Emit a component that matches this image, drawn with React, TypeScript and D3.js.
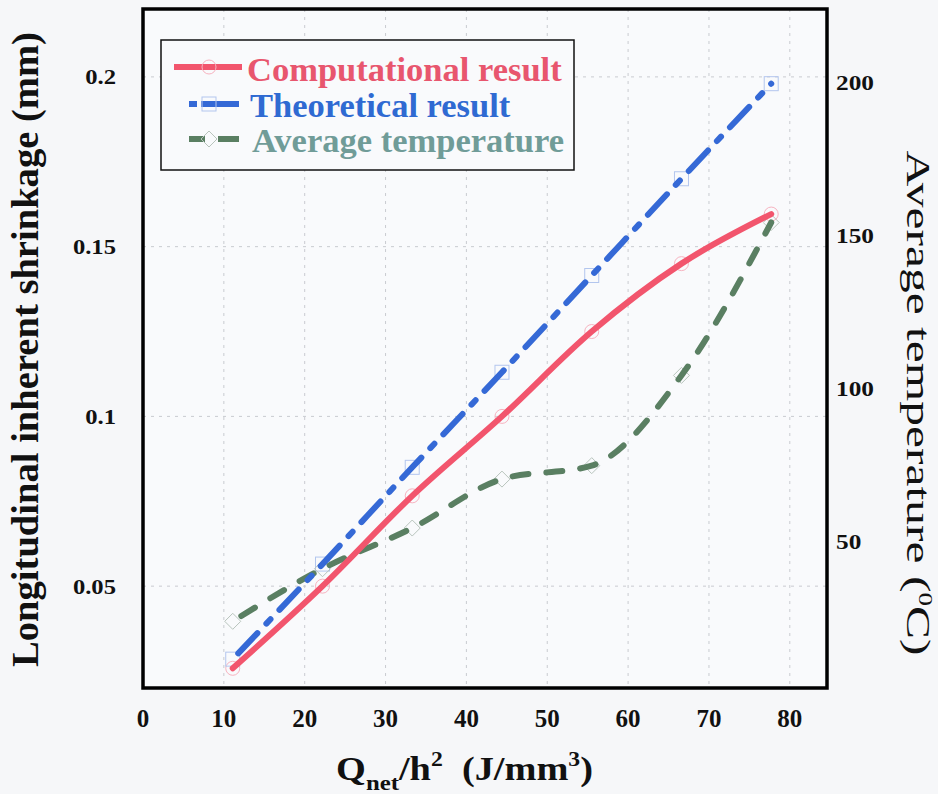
import React, { useLayoutEffect, useRef, useState } from "react";
import * as d3 from "d3";

const xValues = [11.1, 22.2, 33.3, 44.4, 55.5, 66.6, 77.7];
const computational = [0.0258, 0.05, 0.0766, 0.1, 0.125, 0.145, 0.1596];
const theoretical = [0.0285, 0.0565, 0.085, 0.113, 0.1415, 0.17, 0.198];
const avgTemperature = [23.8, 41, 54.3, 70.3, 74.7, 104.2, 154.2];
const xTicks = [0, 10, 20, 30, 40, 50, 60, 70, 80];
const leftTicks = [0.05, 0.1, 0.15, 0.2];
const rightTicks = [50, 100, 150, 200];
const legendLabels = ["Computational result", "Theoretical result", "Average temperature"];

const W = 938;
const H = 794;
const L = 143, R = 827, T = 9, B = 688;
const FONT = "Liberation Serif";

type FitProps = {
  x: number;
  y: number;
  rotate?: number;
  target: number;
  fontSize: number;
  fontWeight?: string;
  fill?: string;
  children: React.ReactNode;
};

function FitText({ x, y, rotate = 0, target, fontSize, fontWeight = "normal", fill = "#111", children }: FitProps) {
  const ref = useRef<SVGTextElement>(null);
  const [s, setS] = useState(1);
  useLayoutEffect(() => {
    if (ref.current) {
      const w = ref.current.getBBox().width;
      if (w > 0) setS(target / w);
    }
  }, [target]);
  return (
    <g transform={`translate(${x},${y}) rotate(${rotate}) scale(${s},1)`}>
      <text ref={ref} x={0} y={0} textAnchor="middle" fontSize={fontSize} fontWeight={fontWeight} fill={fill} fontFamily={FONT}>
        {children}
      </text>
    </g>
  );
}

export default function App() {
  const x = d3.scaleLinear().domain([0, 84.6]).range([L, R]);
  const yL = d3.scaleLinear().domain([0.02, 0.22]).range([B, T]);
  const yR = d3.scaleLinear().domain([2, 224]).range([B, T]);
  const fmt = d3.format("");

  const lineL = d3
    .line<number>()
    .x((_, i) => x(xValues[i]))
    .y((d) => yL(d))
    .curve(d3.curveMonotoneX);
  const lineR = d3
    .line<number>()
    .x((_, i) => x(xValues[i]))
    .y((d) => yR(d))
    .curve(d3.curveMonotoneX);

  const red = "#f2556d";
  const blue = "#3569d6";
  const green = "#5a7f62";

  const diamond = (cx: number, cy: number, s: number) =>
    `M${cx},${cy - s}L${cx + s},${cy}L${cx},${cy + s}L${cx - s},${cy}Z`;

  return (
    <svg
      width={W}
      height={H}
      style={{ position: "absolute", left: 0, top: 0, background: "#f6f7f9" }}
      fontFamily={FONT}
    >
      <rect x={0} y={0} width={W} height={H} fill="#f6f7f9" />
      <rect x={L} y={T} width={R - L} height={B - T} fill="#f9fafc" />
      {/* grid */}
      {xTicks.filter((t) => t > 0).map((t) => (
        <line key={"gx" + t} x1={x(t)} x2={x(t)} y1={T} y2={B} stroke="#c9cbd0" strokeWidth={1} strokeDasharray="3,5" />
      ))}
      {leftTicks.map((t) => (
        <line key={"gy" + t} x1={L} x2={R} y1={yL(t)} y2={yL(t)} stroke="#c9cbd0" strokeWidth={1} strokeDasharray="3,5" />
      ))}

      {/* markers */}
      {computational.map((v, i) => (
        <circle key={"c" + i} cx={x(xValues[i])} cy={yL(v)} r={7} fill="none" stroke="#f7b3c0" strokeWidth={1} />
      ))}
      {theoretical.map((v, i) => (
        <rect key={"s" + i} x={x(xValues[i]) - 7} y={yL(v) - 7} width={14} height={14} fill="none" stroke="#b3c6ee" strokeWidth={1} />
      ))}
      {avgTemperature.map((v, i) => (
        <path key={"d" + i} d={diamond(x(xValues[i]), yR(v), 8)} fill="none" stroke="#b8c4bc" strokeWidth={1} />
      ))}

      {/* lines */}
      <path d={lineR(avgTemperature) || ""} fill="none" stroke={green} strokeWidth={6} strokeDasharray="16,18" strokeLinecap="round" strokeDashoffset={-10} />
      <path d={lineL(theoretical) || ""} fill="none" stroke={blue} strokeWidth={6} strokeDasharray="28,13,6,13" strokeLinecap="round" strokeDashoffset={-8} />
      <path d={lineL(computational) || ""} fill="none" stroke={red} strokeWidth={6} strokeLinecap="round" />

      {/* frame */}
      <rect x={L} y={T} width={R - L} height={B - T} fill="none" stroke="#000" strokeWidth={3.5} />

      {/* left ticks */}
      {leftTicks.map((t) => (
        <text key={"lt" + t} transform={`translate(116,${yL(t)}) scale(1.12,1)`} x={0} y={0} textAnchor="end" dominantBaseline="central" fontSize={22} fontWeight="bold" fill="#111">
          {fmt(t)}
        </text>
      ))}
      {/* right ticks */}
      {rightTicks.map((t) => (
        <text key={"rt" + t} transform={`translate(836,${yR(t)}) scale(1.15,1)`} x={0} y={0} textAnchor="start" dominantBaseline="central" fontSize={22} fontWeight="bold" fill="#111">
          {t}
        </text>
      ))}
      {/* x ticks */}
      {xTicks.map((t) => (
        <text key={"xt" + t} x={x(t)} y={718} textAnchor="middle" dominantBaseline="central" fontSize={25} fontWeight="bold" fill="#111">
          {t}
        </text>
      ))}

      {/* axis titles */}
      <FitText x={38} y={349.5} rotate={-90} target={635} fontSize={37} fontWeight="bold">
        Longitudinal inherent shrinkage (mm)
      </FitText>
      <FitText x={907} y={403} rotate={90} target={505} fontSize={33}>
        Average temperature (<tspan fontSize={18} dy={-12}>0</tspan>
        <tspan dy={12}>C)</tspan>
      </FitText>
      <FitText x={464.5} y={780} target={257} fontSize={34} fontWeight="bold">
        Q<tspan fontSize={22} dy={10}>net</tspan>
        <tspan dy={-10}>/h</tspan>
        <tspan fontSize={21} dy={-14}>2</tspan>
        <tspan dy={14}>{"\u00a0\u00a0(J/mm"}</tspan>
        <tspan fontSize={21} dy={-14}>3</tspan>
        <tspan dy={14}>)</tspan>
      </FitText>

      {/* legend */}
      <rect x={161} y={40} width={413} height={130} fill="#f9fafc" stroke="#111" strokeWidth={1.5} />
      <line x1={174} x2={242} y1={67} y2={67} stroke={red} strokeWidth={6} />
      <circle cx={209} cy={67} r={7} fill="none" stroke="#f7b3c0" strokeWidth={1} />
      <line x1={189} x2={239} y1={104} y2={104} stroke={blue} strokeWidth={6} strokeDasharray="8,4,38" />
      <rect x={202} y={97} width={14} height={14} fill="none" stroke="#b3c6ee" strokeWidth={1} />
      <line x1={189} x2={239} y1={139} y2={139} stroke={green} strokeWidth={6} strokeDasharray="16,13,30" />
      <path d={diamond(209, 139, 8)} fill="none" stroke="#b8c4bc" strokeWidth={1} />
      <text x={247} y={81} fontSize={34.5} fontWeight="bold" fill="#e8566e">
        {legendLabels[0]}
      </text>
      <text x={250} y={117} fontSize={34.5} fontWeight="bold" fill="#2f6ad2">
        {legendLabels[1]}
      </text>
      <text x={252} y={152} fontSize={34.5} fontWeight="bold" fill="#709c98">
        {legendLabels[2]}
      </text>
    </svg>
  );
}
